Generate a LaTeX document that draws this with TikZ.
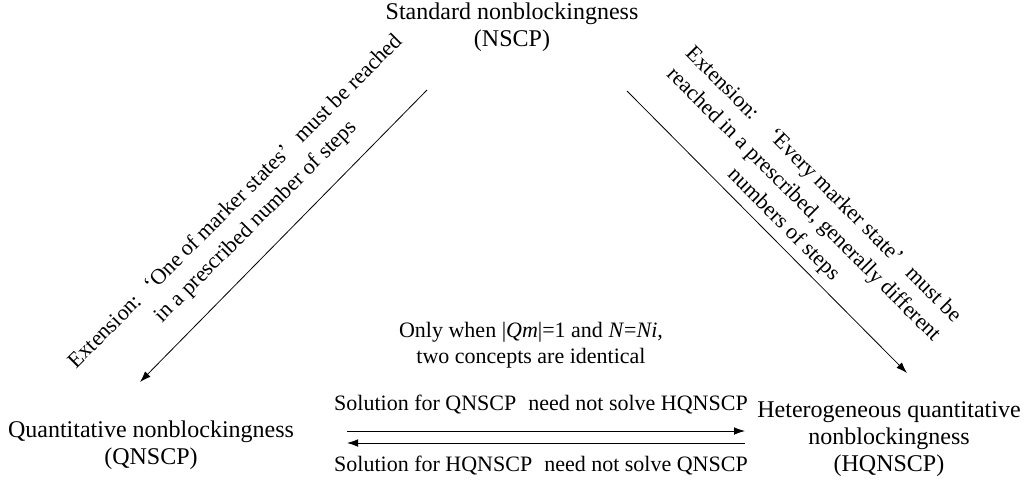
\documentclass[tikz,border=0pt]{standalone}
\usepackage{fontspec}
\setmainfont{Liberation Serif}
\usetikzlibrary{arrows.meta}

\begin{document}
\begin{tikzpicture}[x=0.5pt, y=-0.5pt, font=\fontsize{12}{13.5}\selectfont,
    >={Latex[length=5.5pt,width=3.8pt]},
    small/.style={font=\fontsize{11}{13}\selectfont, align=center},
    slanted/.style={font=\fontsize{11}{14}\selectfont, align=center}]

    \useasboundingbox (0,0) rectangle (1028,488);

    % the three concepts
    \node[align=center] (nscp) at (512,27) {Standard nonblockingness\\(NSCP)};
    \node[align=center] (qnscp) at (151,445) {Quantitative nonblockingness\\(QNSCP)};
    \node[align=center] (hqnscp) at (889,439) {Heterogeneous quantitative\\nonblockingness\\(HQNSCP)};

    % ends of the arrows
    \coordinate (l1) at (427,90);
    \coordinate (l2) at (140,382);
    \coordinate (r1) at (627,91);
    \coordinate (r2) at (907,373);
    \coordinate (a1) at (347,431);
    \coordinate (a2) at (745,431);
    \coordinate (b1) at (745,443);
    \coordinate (b2) at (347,443);

    \draw[->] (l1) -- (l2);
    \draw[->] (r1) -- (r2);
    \draw[->] (a1) -- (a2);
    \draw[->] (b1) -- (b2);

    % labels
    \node[slanted, rotate=45] (lext) at (246,212)
        {Extension:\hspace{7pt}‘One of marker states’\hspace{7pt}must be reached\\in a prescribed number of steps};
    \node[slanted, rotate=-45] (rext) at (803,205)
        {Extension:\hspace{11pt}‘Every marker state’\hspace{7pt}must be\\reached in a prescribed, generally different\\numbers of steps};
    \node[small] (only) at (531,345)
        {Only when |\textit{Qm}|=1 and \textit{N}=\textit{Ni},\\two concepts are identical};
    \node[small] (sol1) at (541,405) {Solution for QNSCP\hspace{6pt}need not solve HQNSCP};
    \node[small] (sol2) at (541,466) {Solution for HQNSCP\hspace{6pt}need not solve QNSCP};

\end{tikzpicture}
\end{document}
